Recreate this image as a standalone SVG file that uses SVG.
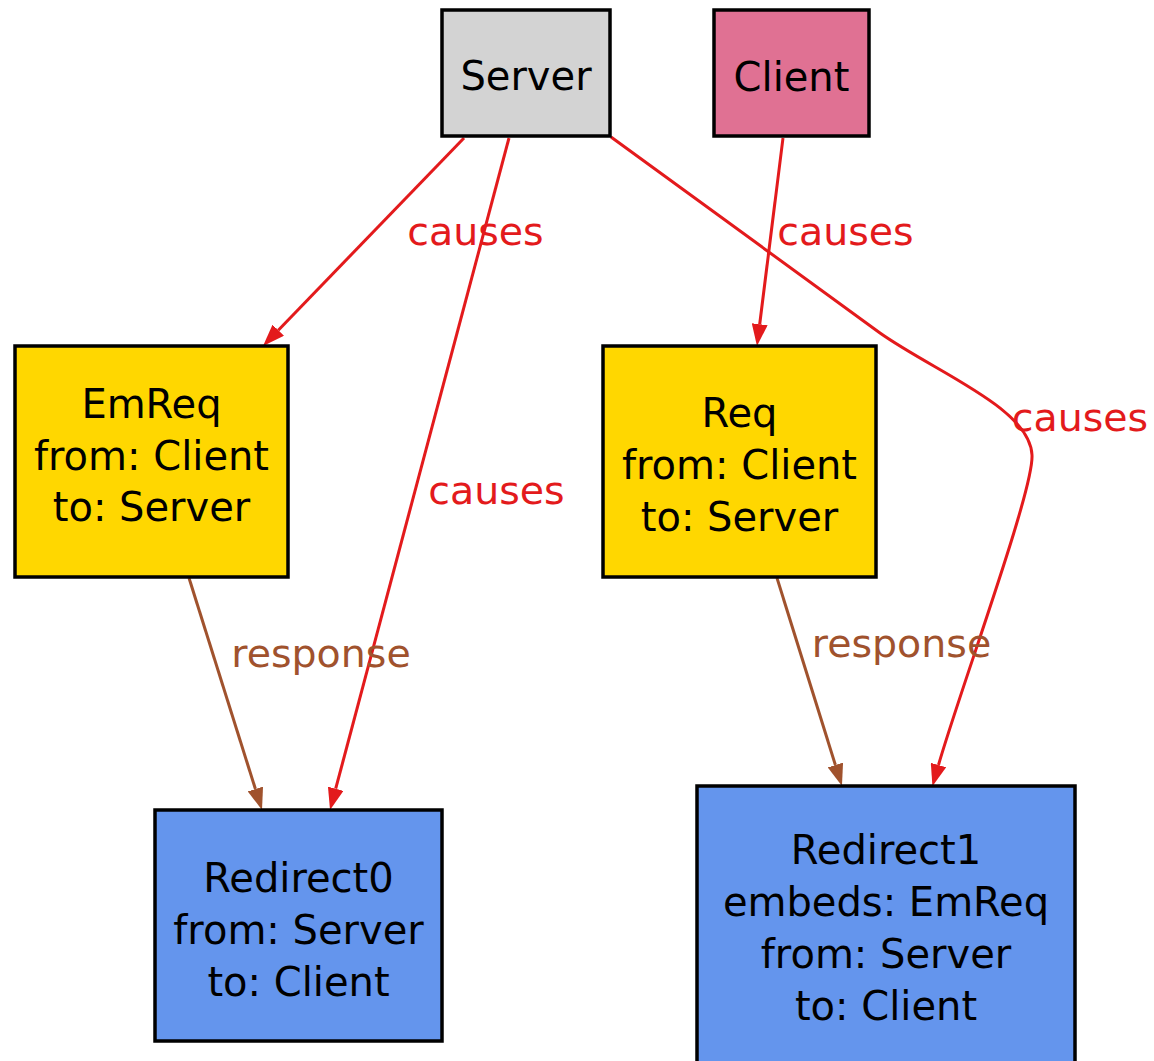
<svg xmlns="http://www.w3.org/2000/svg" width="1154" height="1061" viewBox="0 0 1154 1061">
<defs>
<style>
.node rect{stroke:#000;stroke-width:3.5}
.node text{font-family:"DejaVu Sans",sans-serif;font-size:40px;fill:#000;text-anchor:middle}
.edge path{fill:none;stroke-width:3}
.red path{stroke:#e31a1c}
.brown path{stroke:#a0522d}
.lbl{font-family:"DejaVu Sans",sans-serif;font-size:39.5px;text-anchor:middle}
.red .lbl{fill:#e31a1c}
.brown .lbl{fill:#a0522d}
</style>
<marker id="ar" viewBox="0 0 22 16" refX="0" refY="8" markerWidth="22" markerHeight="16" markerUnits="userSpaceOnUse" orient="auto"><path d="M0,0 L22,8 L0,16 Z" fill="#e31a1c"/></marker>
<marker id="ab" viewBox="0 0 22 16" refX="0" refY="8" markerWidth="22" markerHeight="16" markerUnits="userSpaceOnUse" orient="auto"><path d="M0,0 L22,8 L0,16 Z" fill="#a0522d"/></marker>
</defs>
<rect width="1154" height="1061" fill="#fff"/>
<g id="connectors">
<g class="edge red"><path d="M464,138 L278.3,330.2" marker-end="url(#ar)"/><text class="lbl" x="475.5" y="245">causes</text></g>
<g class="edge red"><path d="M509,138 L335.7,788.7" marker-end="url(#ar)"/><text class="lbl" x="496.5" y="504">causes</text></g>
<g class="edge red"><path d="M611,137 L880,333 C935,372 1030,408 1032,455 C1034,490 960,690 938.5,765" marker-end="url(#ar)"/><text class="lbl" x="1080" y="431">causes</text></g>
<g class="edge red"><path d="M783,138 L759.7,324.2" marker-end="url(#ar)"/><text class="lbl" x="845.5" y="245">causes</text></g>
<g class="edge brown"><path d="M189,578 L255.4,789" marker-end="url(#ab)"/><text class="lbl" x="321" y="667">response</text></g>
<g class="edge brown"><path d="M777,578 L835.4,765" marker-end="url(#ab)"/><text class="lbl" x="901.5" y="657">response</text></g>
</g>
<g id="Server" class="node"><rect x="442" y="10" width="168" height="126" fill="#d3d3d3"/><text x="526" y="90">Server</text></g>
<g id="Client" class="node"><rect x="714" y="10" width="155" height="126" fill="#e07193"/><text x="791.5" y="91">Client</text></g>
<g id="EmReq" class="node"><rect x="15" y="346" width="273" height="231" fill="#ffd700"/><text x="151.5" y="418">EmReq</text><text x="151.5" y="470">from: Client</text><text x="151.5" y="521">to: Server</text></g>
<g id="Req" class="node"><rect x="603" y="346" width="273" height="231" fill="#ffd700"/><text x="739.5" y="427">Req</text><text x="739.5" y="479">from: Client</text><text x="739.5" y="531">to: Server</text></g>
<g id="Redirect0" class="node"><rect x="155" y="810" width="287" height="231" fill="#6495ed"/><text x="298.5" y="892">Redirect0</text><text x="298.5" y="944">from: Server</text><text x="298.5" y="996">to: Client</text></g>
<g id="Redirect1" class="node"><rect x="697" y="786" width="378" height="290" fill="#6495ed"/><text x="886" y="864">Redirect1</text><text x="886" y="916">embeds: EmReq</text><text x="886" y="968">from: Server</text><text x="886" y="1020">to: Client</text></g>
</svg>
